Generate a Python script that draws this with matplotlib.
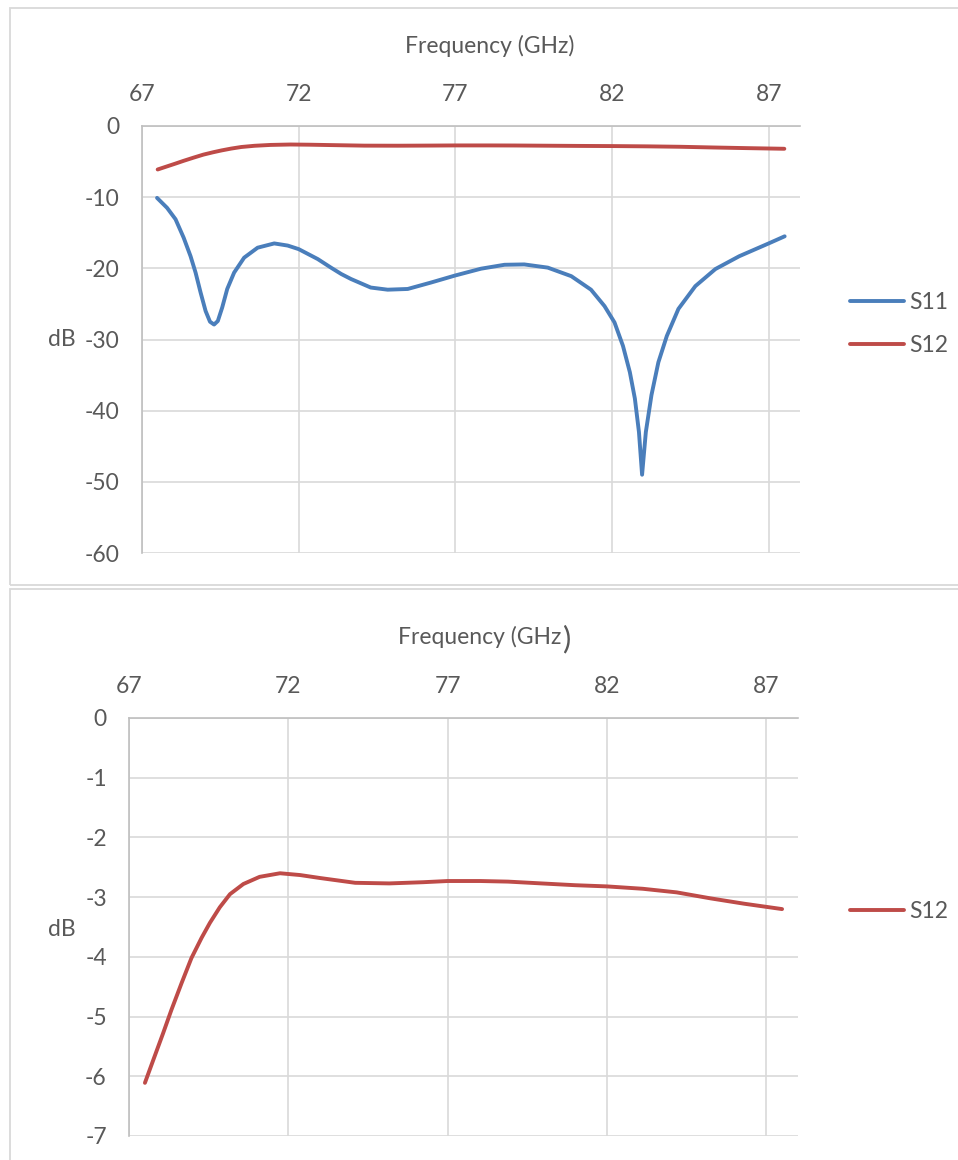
import matplotlib
matplotlib.use("Agg")
import matplotlib.pyplot as plt
from matplotlib.patches import Rectangle

# ---------------- data ----------------
s11_freq = [67.48, 67.8, 68.07, 68.33, 68.55, 68.71, 68.87, 69.03, 69.17, 69.3, 69.42, 69.56,
            69.72, 69.94, 70.26, 70.69, 71.22, 71.65, 72.0, 72.61, 73.03, 73.36, 73.67, 74.3,
            74.84, 75.48, 76.22, 77.0, 77.82, 78.57, 79.2, 79.95, 80.7, 81.33, 81.76, 82.08,
            82.35, 82.57, 82.73, 82.86, 82.96, 83.08, 83.26, 83.48, 83.75, 84.12, 84.66,
            85.3, 86.06, 87.0, 87.51]
s11_db = [-10.1, -11.5, -13.1, -15.7, -18.3, -20.6, -23.4, -26.0, -27.5, -27.9, -27.4, -25.5,
          -22.9, -20.6, -18.5, -17.1, -16.5, -16.8, -17.3, -18.7, -19.9, -20.8, -21.5, -22.7,
          -23.0, -22.9, -22.0, -21.0, -20.05, -19.5, -19.45, -19.9, -21.1, -23.0, -25.3, -27.6,
          -30.9, -34.6, -38.3, -43.0, -49.0, -43.0, -37.8, -33.2, -29.5, -25.7, -22.5,
          -20.1, -18.3, -16.5, -15.5]

s12_freq = [67.5, 67.76, 68.07, 68.33, 68.65, 68.96, 69.28, 69.54, 69.85, 70.17, 70.59,
            71.1, 71.74, 72.37, 73.0, 74.1, 75.17, 76.23, 77.0, 78.03, 78.9, 79.94,
            81.0, 82.0, 83.13, 84.19, 85.25, 86.31, 87.5]
s12_db = [-6.11, -5.73, -5.28, -4.89, -4.44, -4.02, -3.68, -3.43, -3.17, -2.95, -2.78,
          -2.66, -2.60, -2.63, -2.68, -2.76, -2.77, -2.75, -2.73, -2.73, -2.74, -2.77,
          -2.80, -2.82, -2.86, -2.92, -3.02, -3.11, -3.20]

x_ticks = [67, 72, 77, 82, 87]
y_ticks_top = [0, -10, -20, -30, -40, -50, -60]
y_ticks_bottom = [0, -1, -2, -3, -4, -5, -6, -7]

# ---------------- style ----------------
FONT = "Lato"
FS = 16.5
TXT = "#595959"
GRID = "#d9d9d9"
SPINE = "#bfbfbf"
BLUE = "#4a7ebb"
RED = "#be4b48"
plt.rcParams["font.family"] = [FONT, "DejaVu Sans"]
plt.rcParams["axes.unicode_minus"] = False

W, H = 958, 1160
fig = plt.figure(figsize=(W / 100, H / 100), dpi=100)


def fx(px):
    return px / W


def fy(py):
    return 1 - py / H


# panel borders
for (x0, y0, y1) in [(10, 8, 585), (10, 589, 1175)]:
    fig.patches.append(Rectangle((fx(x0), fy(y1)), fx(1000 - x0), fy(y0) - fy(y1),
                                 transform=fig.transFigure, fill=False,
                                 edgecolor=GRID, linewidth=1.3, zorder=0))


def style_axes(ax, yticks, ylim):
    ax.set_xlim(67, 88)
    ax.set_ylim(*ylim)
    ax.set_xticks(x_ticks)
    ax.set_yticks(yticks)
    ax.xaxis.tick_top()
    ax.tick_params(axis="both", length=0, labelsize=FS, labelcolor=TXT)
    ax.tick_params(axis="x", pad=15)
    ax.tick_params(axis="y", pad=16)
    ax.grid(True, color=GRID, linewidth=1.2)
    ax.set_axisbelow(True)
    for s in ["right", "bottom"]:
        ax.spines[s].set_visible(False)
    for s in ["top", "left"]:
        ax.spines[s].set_color(SPINE)
        ax.spines[s].set_linewidth(1.2)


# ---------------- top panel ----------------
ax1 = fig.add_axes([fx(142), fy(553), fx(800) - fx(142), fy(126) - fy(553)])
style_axes(ax1, y_ticks_top, (-60, 0))
ax1.plot(s11_freq, s11_db, color=BLUE, linewidth=2.8, solid_capstyle="round",
         solid_joinstyle="round", label="S11")
ax1.plot(s12_freq, s12_db, color=RED, linewidth=2.8, solid_capstyle="round",
         solid_joinstyle="round", label="S12")
fig.text(fx(490), fy(46), "Frequency (GHz)", ha="center", va="center", fontsize=FS, color=TXT)
fig.text(fx(62), fy(340), "dB", ha="center", va="center", fontsize=FS, color=TXT)
ax1.legend(loc="center left", bbox_to_anchor=(fx(850), fy(324)), bbox_transform=fig.transFigure,
           frameon=False, fontsize=FS, labelcolor=TXT, handlelength=2.35, handletextpad=0.25,
           labelspacing=0.95, borderpad=0, borderaxespad=0)

# ---------------- bottom panel ----------------
ax2 = fig.add_axes([fx(129), fy(1136), fx(798) - fx(129), fy(718) - fy(1136)])
style_axes(ax2, y_ticks_bottom, (-7, 0))
ax2.plot(s12_freq, s12_db, color=RED, linewidth=2.8, solid_capstyle="round",
         solid_joinstyle="round", label="S12")
t = fig.text(fx(398), fy(637), "Frequency (GHz", ha="left", va="center", fontsize=FS, color=TXT)
fig.canvas.draw()
bb = t.get_window_extent()
fig.text(bb.x1 / W + 0.001, fy(639), ")", ha="left", va="center", fontsize=FS + 6, color=TXT)
fig.text(fx(62), fy(930), "dB", ha="center", va="center", fontsize=FS, color=TXT)
ax2.legend(loc="center left", bbox_to_anchor=(fx(850), fy(912)), bbox_transform=fig.transFigure,
           frameon=False, fontsize=FS, labelcolor=TXT, handlelength=2.35, handletextpad=0.25,
           borderpad=0, borderaxespad=0)

fig.savefig("out.png", dpi=100)
